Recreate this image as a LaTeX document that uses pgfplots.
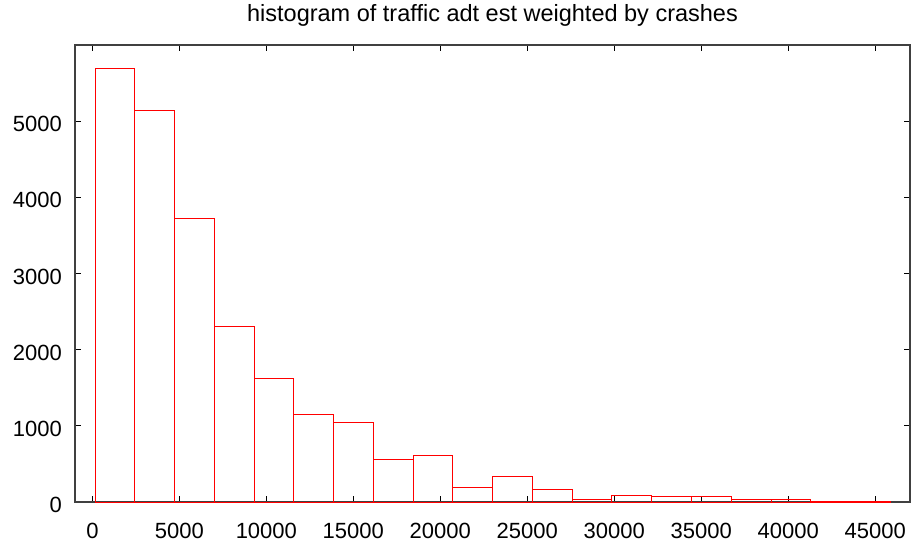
\documentclass[border=0pt]{standalone}
\usepackage{fontspec}
\setmainfont{Liberation Sans}
\usepackage{pgfplots}
\pgfplotsset{compat=1.18}
\begin{document}
\begin{tikzpicture}
\begin{axis}[
  at={(0,0)}, anchor=south west,
  scale only axis,
  width=835pt, height=457pt,
  xmin=-1000, xmax=47000,
  ymin=0, ymax=6000,
  xtick={0,5000,...,45000},
  ytick={0,1000,...,5000},
  scaled x ticks=false, scaled y ticks=false,
  /pgf/number format/.cd, 1000 sep={}, assume math mode=true, /pgfplots/.cd,
  tick align=inside,
  major tick length=6pt,
  tick style={black, line width=0.8pt},
  axis line style={draw=black!75, line width=1.5pt},
  ticklabel style={font=\fontsize{22}{26}\selectfont},
  xticklabel style={anchor=base, yshift=-36pt},
  yticklabel style={anchor=east, inner sep=0pt, xshift=-13pt, yshift=-3pt},
  title={histogram of traffic adt est weighted by crashes},
  title style={font=\fontsize{23.5}{27}\selectfont, at={(0.5,1)}, anchor=base, yshift=18pt},
]
\addplot[ybar interval, draw=red, fill=none, line width=0.8pt] coordinates {
(144,5690) (2430,5141) (4716,3725) (7002,2305) (9288,1621)
(11574,1146) (13860,1042) (16146,553) (18432,615) (20718,186)
(23004,335) (25290,170) (27576,30) (29862,82) (32148,80)
(34434,78) (36720,32) (39006,32) (41292,5) (43578,3)
(45864,3)
};
\end{axis}
\pgfresetboundingbox
\useasboundingbox (-75pt,-45pt) rectangle (841pt,502pt);
\end{tikzpicture}
\end{document}
